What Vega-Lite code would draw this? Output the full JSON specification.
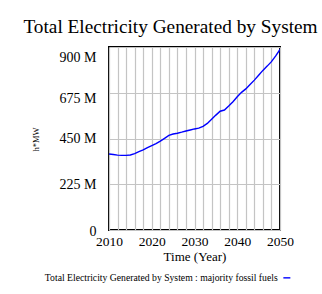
{
  "$schema": "https://vega.github.io/schema/vega-lite/v6.json",
  "width": 171,
  "height": 183,
  "autosize": {"type": "none"},
  "padding": {"left": 109, "top": 47, "right": 42, "bottom": 64},
  "background": "white",
  "title": {
    "text": "Total Electricity Generated by System",
    "font": "Liberation Serif, Times New Roman, DejaVu Serif, serif",
    "fontSize": 19.3,
    "fontWeight": "normal",
    "color": "black",
    "anchor": "middle",
    "dx": -24,
    "offset": 10
  },
  "data": {
    "values": [
      {"year": 2010, "value": 374000000, "series": "Total Electricity Generated by System : majority fossil fuels"},
      {"year": 2011, "value": 371000000, "series": "Total Electricity Generated by System : majority fossil fuels"},
      {"year": 2012, "value": 368000000, "series": "Total Electricity Generated by System : majority fossil fuels"},
      {"year": 2013, "value": 367000000, "series": "Total Electricity Generated by System : majority fossil fuels"},
      {"year": 2014, "value": 367000000, "series": "Total Electricity Generated by System : majority fossil fuels"},
      {"year": 2015, "value": 369000000, "series": "Total Electricity Generated by System : majority fossil fuels"},
      {"year": 2016, "value": 376000000, "series": "Total Electricity Generated by System : majority fossil fuels"},
      {"year": 2017, "value": 385000000, "series": "Total Electricity Generated by System : majority fossil fuels"},
      {"year": 2018, "value": 394000000, "series": "Total Electricity Generated by System : majority fossil fuels"},
      {"year": 2019, "value": 405000000, "series": "Total Electricity Generated by System : majority fossil fuels"},
      {"year": 2020, "value": 415000000, "series": "Total Electricity Generated by System : majority fossil fuels"},
      {"year": 2021, "value": 425000000, "series": "Total Electricity Generated by System : majority fossil fuels"},
      {"year": 2022, "value": 437000000, "series": "Total Electricity Generated by System : majority fossil fuels"},
      {"year": 2023, "value": 451000000, "series": "Total Electricity Generated by System : majority fossil fuels"},
      {"year": 2024, "value": 465000000, "series": "Total Electricity Generated by System : majority fossil fuels"},
      {"year": 2025, "value": 472000000, "series": "Total Electricity Generated by System : majority fossil fuels"},
      {"year": 2026, "value": 476000000, "series": "Total Electricity Generated by System : majority fossil fuels"},
      {"year": 2027, "value": 481000000, "series": "Total Electricity Generated by System : majority fossil fuels"},
      {"year": 2028, "value": 487000000, "series": "Total Electricity Generated by System : majority fossil fuels"},
      {"year": 2029, "value": 492000000, "series": "Total Electricity Generated by System : majority fossil fuels"},
      {"year": 2030, "value": 497000000, "series": "Total Electricity Generated by System : majority fossil fuels"},
      {"year": 2031, "value": 501000000, "series": "Total Electricity Generated by System : majority fossil fuels"},
      {"year": 2032, "value": 510000000, "series": "Total Electricity Generated by System : majority fossil fuels"},
      {"year": 2033, "value": 524000000, "series": "Total Electricity Generated by System : majority fossil fuels"},
      {"year": 2034, "value": 545000000, "series": "Total Electricity Generated by System : majority fossil fuels"},
      {"year": 2035, "value": 565000000, "series": "Total Electricity Generated by System : majority fossil fuels"},
      {"year": 2036, "value": 584000000, "series": "Total Electricity Generated by System : majority fossil fuels"},
      {"year": 2037, "value": 590000000, "series": "Total Electricity Generated by System : majority fossil fuels"},
      {"year": 2038, "value": 610000000, "series": "Total Electricity Generated by System : majority fossil fuels"},
      {"year": 2039, "value": 631000000, "series": "Total Electricity Generated by System : majority fossil fuels"},
      {"year": 2040, "value": 655000000, "series": "Total Electricity Generated by System : majority fossil fuels"},
      {"year": 2041, "value": 677000000, "series": "Total Electricity Generated by System : majority fossil fuels"},
      {"year": 2042, "value": 694000000, "series": "Total Electricity Generated by System : majority fossil fuels"},
      {"year": 2043, "value": 716000000, "series": "Total Electricity Generated by System : majority fossil fuels"},
      {"year": 2044, "value": 737000000, "series": "Total Electricity Generated by System : majority fossil fuels"},
      {"year": 2045, "value": 761000000, "series": "Total Electricity Generated by System : majority fossil fuels"},
      {"year": 2046, "value": 785000000, "series": "Total Electricity Generated by System : majority fossil fuels"},
      {"year": 2047, "value": 806000000, "series": "Total Electricity Generated by System : majority fossil fuels"},
      {"year": 2048, "value": 828000000, "series": "Total Electricity Generated by System : majority fossil fuels"},
      {"year": 2049, "value": 856000000, "series": "Total Electricity Generated by System : majority fossil fuels"},
      {"year": 2050, "value": 888000000, "series": "Total Electricity Generated by System : majority fossil fuels"}
    ]
  },
  "mark": {"type": "line", "strokeWidth": 1.4, "clip": true},
  "encoding": {
    "x": {
      "field": "year",
      "type": "quantitative",
      "scale": {"domain": [2010, 2050], "nice": false, "zero": false},
      "axis": {
        "values": [2010, 2012, 2014, 2016, 2018, 2020, 2022, 2024, 2026, 2028, 2030, 2032, 2034, 2036, 2038, 2040, 2042, 2044, 2046, 2048, 2050],
        "labelExpr": "datum.value % 10 == 0 ? datum.value : ''",
        "title": "Time (Year)",
        "titleFont": "Liberation Serif, Times New Roman, DejaVu Serif, serif",
        "titleFontSize": 13,
        "titleFontWeight": "normal",
        "titleColor": "black",
        "titlePadding": 3,
        "labelFont": "Liberation Serif, Times New Roman, DejaVu Serif, serif",
        "labelFontSize": 13.5,
        "labelColor": "black",
        "labelPadding": 4,
        "labelOverlap": false,
        "labelFlush": false,
        "ticks": false,
        "tickSize": 0,
        "domain": false,
        "grid": true,
        "gridColor": "#c4c4c4",
        "gridWidth": 1.2,
        "gridOpacity": 1
      }
    },
    "y": {
      "field": "value",
      "type": "quantitative",
      "scale": {"domain": [0, 900000000], "nice": false},
      "axis": {
        "values": [0, 225000000, 450000000, 675000000, 900000000],
        "labelExpr": "datum.value == 0 ? '0' : format(datum.value / 1000000, 'd') + ' M'",
        "labelOffset": {"condition": [{"test": "datum.value == 900000000", "value": 10}, {"test": "datum.value == 675000000", "value": 6}, {"test": "datum.value == 0", "value": 1}], "value": 0},
        "title": "h*MW",
        "titleFont": "Liberation Serif, Times New Roman, DejaVu Serif, serif",
        "titleFontSize": 8.5,
        "titleFontWeight": "normal",
        "titleColor": "black",
        "titleAngle": -90,
        "titleX": -74,
        "titleY": 92,
        "titleAlign": "center",
        "titleBaseline": "middle",
        "labelFont": "Liberation Serif, Times New Roman, DejaVu Serif, serif",
        "labelFontSize": 14,
        "labelColor": "black",
        "labelPadding": 13,
        "labelFlush": false,
        "labelOverlap": false,
        "ticks": false,
        "tickSize": 0,
        "domain": false,
        "grid": true,
        "gridColor": "#c4c4c4",
        "gridWidth": 1.2,
        "gridOpacity": 1
      }
    },
    "color": {
      "field": "series",
      "type": "nominal",
      "scale": {"range": ["#0000ff"]},
      "legend": {
        "orient": "none",
        "legendX": 173,
        "legendY": 226,
        "title": null,
        "symbolType": "stroke",
        "symbolSize": 49,
        "symbolStrokeWidth": 1.4,
        "labelAlign": "right",
        "labelOffset": -14,
        "labelFont": "Liberation Serif, Times New Roman, DejaVu Serif, serif",
        "labelFontSize": 9.7,
        "labelColor": "black",
        "labelLimit": 400,
        "padding": 0
      }
    }
  },
  "config": {
    "view": {"stroke": "black", "strokeWidth": 2}
  }
}
